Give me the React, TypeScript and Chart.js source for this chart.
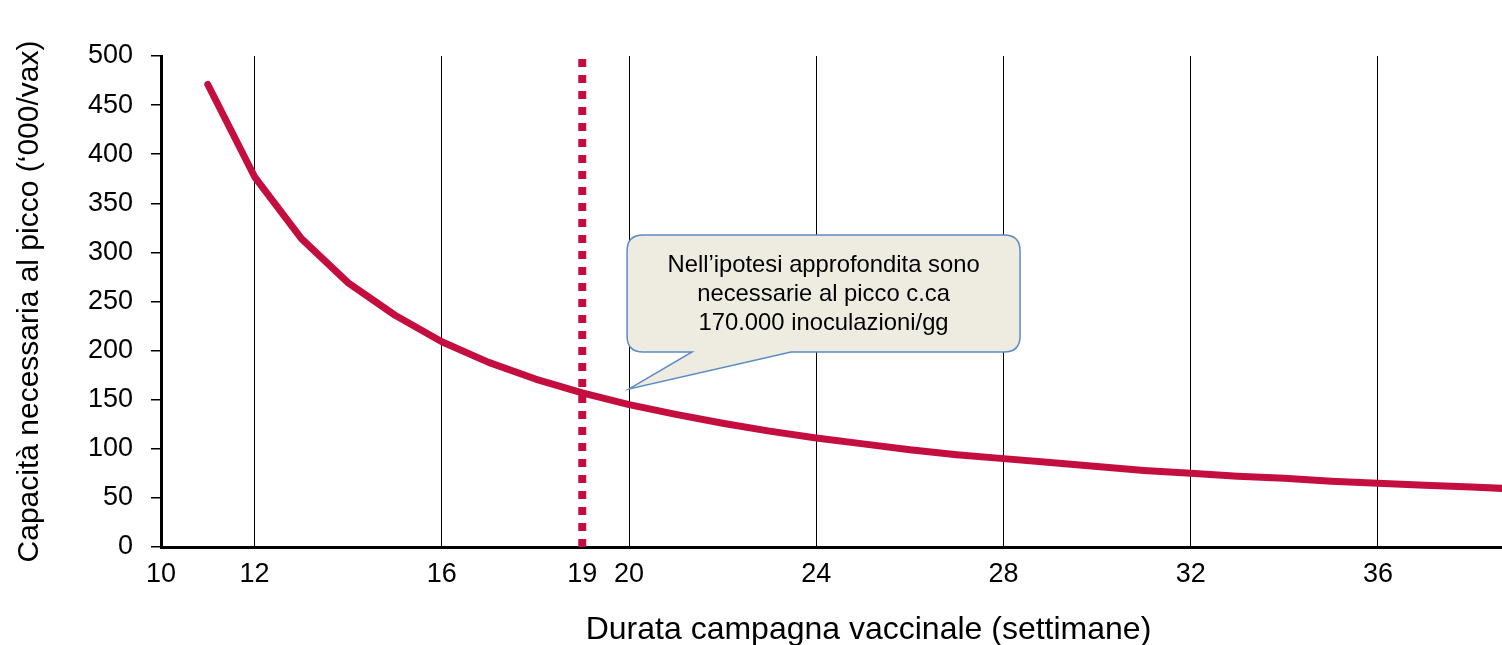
import React, { useEffect, useRef } from "react";
import { Chart, registerables } from "chart.js";

Chart.register(...registerables);

// Data
const weeks = [11, 12, 13, 14, 15, 16, 17, 18, 19, 20, 21, 22, 23, 24, 25, 26, 27, 28, 29, 30, 31, 32, 33, 34, 35, 36, 37, 38, 39];
const capacity = [471, 377, 314, 269, 236, 209, 188, 171, 157, 145, 135, 126, 118, 111, 105, 99, 94, 90, 86, 82, 78, 75, 72, 70, 67, 65, 63, 61, 59];
const xTicks = [10, 12, 16, 19, 20, 24, 28, 32, 36];
const markerWeek = 19;
const calloutTarget = { x: 20, y: 161 };
const calloutLines = [
  "Nell\u2019ipotesi approfondita sono",
  "necessarie al picco c.ca",
  "170.000 inoculazioni/gg",
];
const yTitle = "Capacit\u00e0 necessaria al picco (\u2018000/vax)";
const xTitle = "Durata campagna vaccinale (settimane)";

const FONT = "'Liberation Sans', Arial, sans-serif";
const RED = "#C40E40";

const calloutPlugin = {
  id: "callout",
  afterDatasetsDraw(chart: any) {
    const { ctx, scales } = chart;
    const tx = scales.x.getPixelForValue(calloutTarget.x);
    const ty = scales.y.getPixelForValue(calloutTarget.y);
    const left = tx - 2;
    const right = tx + 391;
    const top = ty - 154;
    const bottom = ty - 37;
    const r = 16;
    const p1 = tx + 63;
    const p2 = tx + 162;
    ctx.save();
    ctx.beginPath();
    ctx.moveTo(left + r, top);
    ctx.lineTo(right - r, top);
    ctx.quadraticCurveTo(right, top, right, top + r);
    ctx.lineTo(right, bottom - r);
    ctx.quadraticCurveTo(right, bottom, right - r, bottom);
    ctx.lineTo(p2, bottom);
    ctx.lineTo(tx, ty);
    ctx.lineTo(p1, bottom);
    ctx.lineTo(left + r, bottom);
    ctx.quadraticCurveTo(left, bottom, left, bottom - r);
    ctx.lineTo(left, top + r);
    ctx.quadraticCurveTo(left, top, left + r, top);
    ctx.closePath();
    ctx.fillStyle = "#EEEBE0";
    ctx.fill();
    ctx.lineWidth = 1.5;
    ctx.strokeStyle = "#5B8CC8";
    ctx.stroke();
    ctx.fillStyle = "#000";
    ctx.font = `23.8px ${FONT}`;
    ctx.textAlign = "center";
    ctx.textBaseline = "middle";
    const cx = (left + right) / 2;
    calloutLines.forEach((line, i) => {
      ctx.fillText(line, cx, top + 31 + i * 29);
    });
    ctx.restore();
  },
};

const xTitlePlugin = {
  id: "xTitle",
  afterDraw(chart: any) {
    const { ctx, chartArea } = chart;
    ctx.save();
    ctx.fillStyle = "#000";
    ctx.font = `32px ${FONT}`;
    ctx.textAlign = "center";
    ctx.textBaseline = "middle";
    ctx.fillText(xTitle, (chartArea.left + chartArea.right) / 2 + 37, chart.height - 15);
    ctx.restore();
  },
};

export default function App() {
  const ref = useRef<HTMLCanvasElement>(null);
  useEffect(() => {
    const canvas = ref.current;
    if (!canvas) return;
    const chart = new Chart(canvas, {
      type: "line",
      data: {
        datasets: [
          {
            data: weeks.map((w, i) => ({ x: w, y: capacity[i] })),
            borderColor: RED,
            borderWidth: 7,
            pointRadius: 0,
            tension: 0,
            borderCapStyle: "round",
            borderJoinStyle: "round",
            fill: false,
          },
          {
            data: [
              { x: markerWeek, y: 0 },
              { x: markerWeek, y: 500 },
            ],
            borderColor: RED,
            borderWidth: 8,
            borderDash: [8, 8],
            pointRadius: 0,
            fill: false,
          },
        ],
      },
      options: {
        animation: false,
        responsive: false,
        devicePixelRatio: 1,
        layout: { padding: { top: 56, right: 0, left: 0, bottom: 0 } },
        plugins: {
          legend: { display: false },
          tooltip: { enabled: false },
        },
        scales: {
          x: {
            type: "linear",
            min: 10,
            max: 38.65,
            afterBuildTicks: (scale: any) => {
              scale.ticks = xTicks.map((v) => ({ value: v }));
            },
            afterFit: (scale: any) => {
              scale.height = 98;
            },
            grid: {
              drawTicks: false,
              color: (c: any) =>
                c.tick && (c.tick.value === 10 || c.tick.value === markerWeek) ? "rgba(0,0,0,0)" : "#000",
              lineWidth: 1,
            },
            border: { color: "#000", width: 3 },
            ticks: {
              color: "#000",
              font: { family: FONT, size: 27 },
              padding: 11,
              maxRotation: 0,
              autoSkip: false,
              callback: (v: any) => String(v),
            },
            title: { display: false },
          },
          y: {
            min: 0,
            max: 500,
            afterFit: (scale: any) => {
              scale.width = 161;
            },
            grid: {
              drawOnChartArea: false,
              drawTicks: true,
              tickLength: 10,
              color: "#000",
              lineWidth: 1.5,
            },
            border: { color: "#000", width: 3 },
            ticks: {
              stepSize: 50,
              color: "#000",
              font: { family: FONT, size: 27 },
              padding: 18,
            },
            title: {
              display: true,
              text: yTitle,
              color: "#000",
              font: { family: FONT, size: 30, lineHeight: 1 },
              padding: { top: 15, bottom: 0 },
            },
          },
        },
      },
      plugins: [calloutPlugin, xTitlePlugin],
    } as any);
    return () => chart.destroy();
  }, []);
  return (
    <div style={{ position: "absolute", left: 0, top: 0, width: 1502, height: 645, background: "#fff" }}>
      <canvas ref={ref} width={1502} height={645} style={{ display: "block" }} />
    </div>
  );
}
